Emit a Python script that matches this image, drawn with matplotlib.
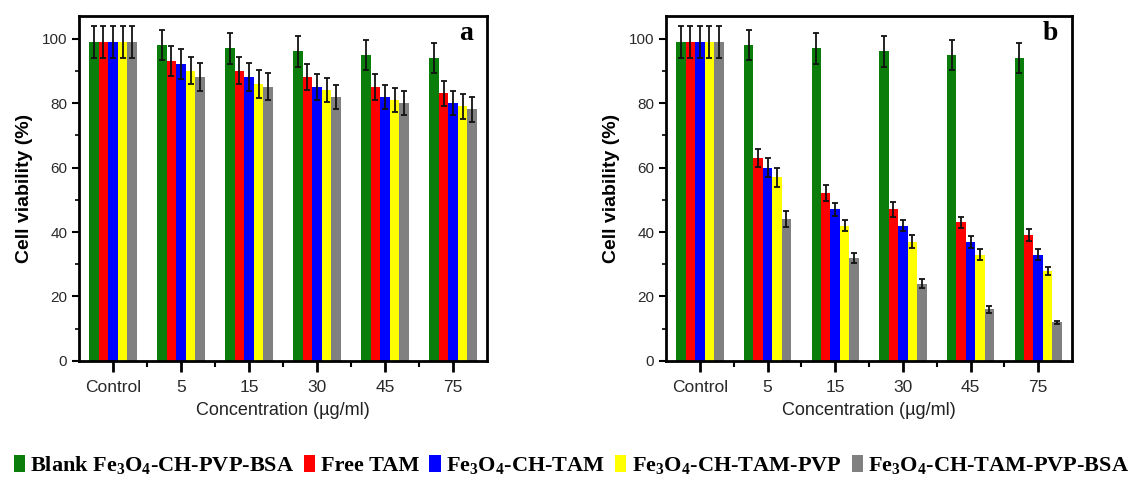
import numpy as np
import matplotlib
matplotlib.use('Agg')
import matplotlib.pyplot as plt
from matplotlib.ticker import MultipleLocator

plt.rcParams['font.family'] = ['Liberation Sans', 'DejaVu Sans']
plt.rcParams['mathtext.fontset'] = 'custom'
plt.rcParams['mathtext.rm'] = 'Liberation Serif'
plt.rcParams['mathtext.bf'] = 'Liberation Serif:bold'

# data
categories = ['Control', '5', '15', '30', '45', '75']
series_names = [r'Blank Fe$\mathbf{_3}$O$\mathbf{_4}$-CH-PVP-BSA', 'Free TAM',
                r'Fe$\mathbf{_3}$O$\mathbf{_4}$-CH-TAM', r'Fe$\mathbf{_3}$O$\mathbf{_4}$-CH-TAM-PVP',
                r'Fe$\mathbf{_3}$O$\mathbf{_4}$-CH-TAM-PVP-BSA']
colors = ['#0b7d0b', '#ff0000', '#0000ff', '#ffff00', '#808080']

# panel a
a_blank = [99, 98, 97, 96, 95, 94]
a_free = [99, 93, 90, 88, 85, 83]
a_ch_tam = [99, 92, 88, 85, 82, 80]
a_pvp = [99, 90, 86, 84, 81, 79]
a_bsa = [99, 88, 85, 82, 80, 78]
a_blank_err = [5, 4.7, 4.8, 4.7, 4.7, 4.7]
a_free_err = [5, 4.7, 4.2, 4.1, 4.1, 3.8]
a_ch_tam_err = [5, 4.7, 4.3, 4.1, 3.7, 3.8]
a_pvp_err = [5, 4.2, 4.3, 3.8, 3.7, 3.8]
a_bsa_err = [5, 4.3, 4.2, 3.7, 3.7, 3.9]

# panel b
b_blank = [99, 98, 97, 96, 95, 94]
b_free = [99, 63, 52, 47, 43, 39]
b_ch_tam = [99, 60, 47, 42, 37, 33]
b_pvp = [99, 57, 42, 37, 33, 28]
b_bsa = [99, 44, 32, 24, 16, 12]
b_blank_err = [5, 4.7, 4.8, 4.7, 4.7, 4.7]
b_free_err = [5, 2.7, 2.5, 2.2, 1.8, 1.8]
b_ch_tam_err = [5, 3, 2.1, 1.7, 1.9, 1.6]
b_pvp_err = [5, 3, 1.7, 2, 1.7, 1.2]
b_bsa_err = [5, 2.4, 1.5, 1.3, 1.0, 0.5]

panels = [
    ('a', [a_blank, a_free, a_ch_tam, a_pvp, a_bsa],
     [a_blank_err, a_free_err, a_ch_tam_err, a_pvp_err, a_bsa_err]),
    ('b', [b_blank, b_free, b_ch_tam, b_pvp, b_bsa],
     [b_blank_err, b_free_err, b_ch_tam_err, b_pvp_err, b_bsa_err]),
]

fig = plt.figure(figsize=(11.43, 4.78), dpi=100)
axes_pos = [[0.0691, 0.2448, 0.357, 0.7218], [0.5827, 0.2448, 0.3552, 0.7218]]

x = np.arange(len(categories))
w = 0.14
handles = []
for (letter, vals, errs), pos in zip(panels, axes_pos):
    ax = fig.add_axes(pos)
    for i in range(5):
        b = ax.bar(x + (i - 2) * w, vals[i], w, color=colors[i], linewidth=0,
                   yerr=errs[i], capsize=2.5,
                   error_kw=dict(ecolor='#111111', elinewidth=1.3, capthick=1.3))
        if letter == 'a':
            handles.append(b)
    ax.set_xlim(-0.5, 5.5)
    ax.set_ylim(0, 107)
    ax.set_xticks(x)
    ax.set_xticklabels(categories, fontsize=12.5, color='#2a2a2a')
    ax.xaxis.set_minor_locator(plt.FixedLocator(x[:-1] + 0.5))
    ax.yaxis.set_major_locator(MultipleLocator(20))
    ax.yaxis.set_minor_locator(MultipleLocator(10))
    ax.tick_params(axis='y', which='major', length=5, width=1.5, labelsize=11, labelcolor='#2a2a2a')
    ax.tick_params(axis='y', which='minor', length=3, width=1.2)
    ax.tick_params(axis='x', which='major', length=8, width=2, pad=6)
    ax.tick_params(axis='x', which='minor', length=4, width=1.5)
    for s in ax.spines.values():
        s.set_linewidth(2)
    ax.set_ylabel('Cell viability (%)', fontsize=14, fontweight='bold', labelpad=6)
    ax.set_xlabel('Concentration (µg/ml)', fontsize=13, color='#222222', labelpad=5)
    ax.text(0.966, 0.95, letter, transform=ax.transAxes, ha='right', va='center',
            fontsize=20, fontweight='bold', family='Liberation Serif')

fig.legend(handles, series_names, loc='center', bbox_to_anchor=(0.5, 0.027), ncol=5,
           frameon=False, handlelength=0.5, handleheight=0.8, handletextpad=0.25,
           columnspacing=0.45, prop={'family': 'Liberation Serif', 'weight': 'bold', 'size': 16})

fig.savefig('out.png', dpi=100)
